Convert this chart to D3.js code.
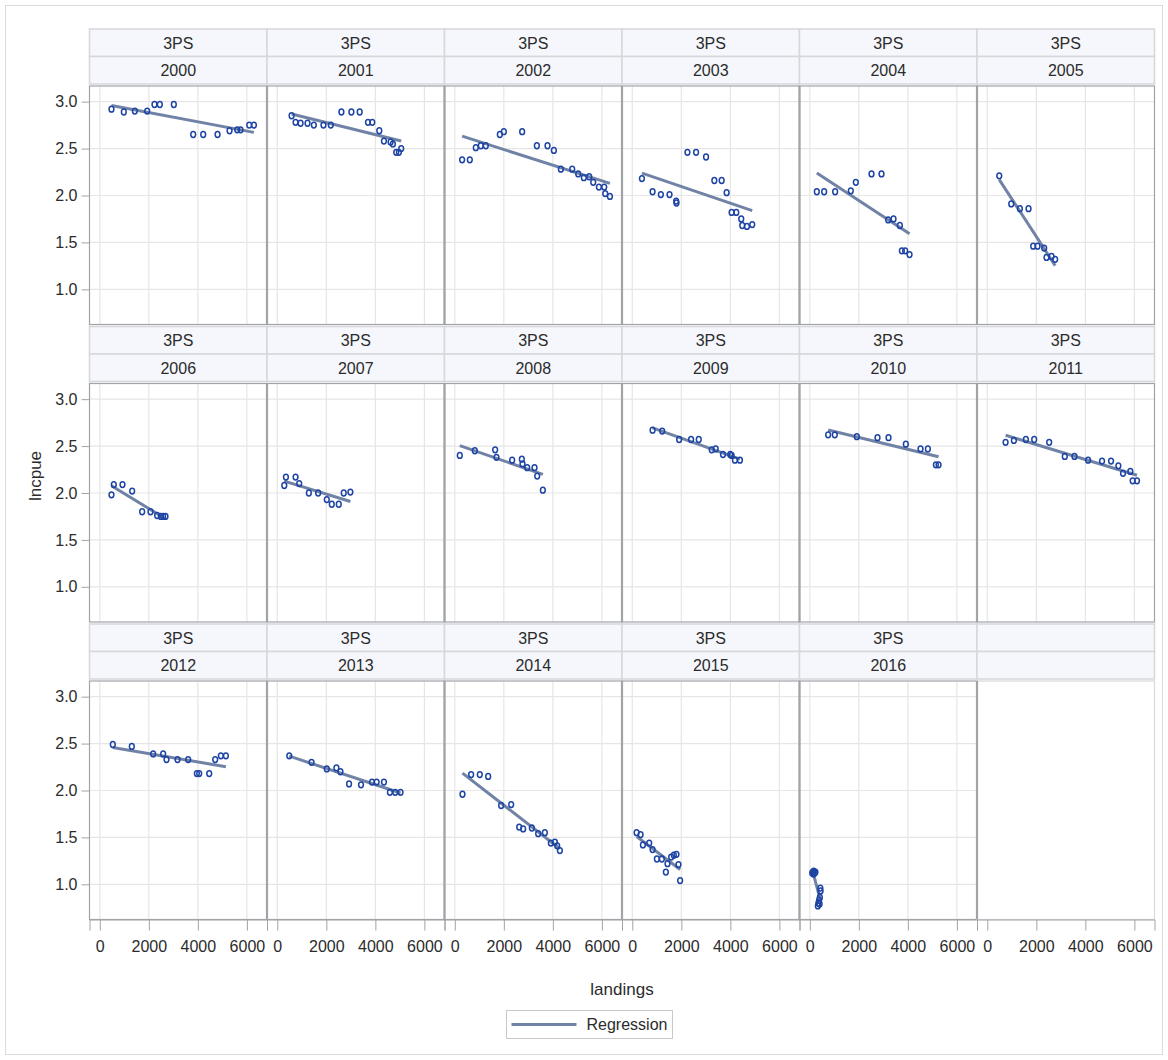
<!DOCTYPE html>
<html>
<head>
<meta charset="utf-8">
<script src="https://cdn.jsdelivr.net/npm/d3@7"></script>
<style>
  body { margin: 0; background: #fff; }
  text { font-family: "Liberation Sans", Arial, sans-serif; }
</style>
</head>
<body>
<svg id="chart" width="1168" height="1060"></svg>
<script>
// Panel labels and axis ticks
const region = "3PS";
const years = [2000, 2001, 2002, 2003, 2004, 2005, 2006, 2007, 2008, 2009, 2010, 2011, 2012, 2013, 2014, 2015, 2016];
const xTicks = [0, 2000, 4000, 6000];
const yTicks = [1.0, 1.5, 2.0, 2.5, 3.0];
const xLabel = "landings";
const yLabel = "lncpue";
const legendLabel = "Regression";

// Observations per year: [landings, lncpue]
const obs2000 = [[476,2.92],[980,2.89],[1429,2.90],[1932,2.90],[2231,2.97],[2449,2.97],[3020,2.97],[3810,2.65],[4218,2.65],[4803,2.65],[5293,2.69],[5605,2.70],[5741,2.70],[6095,2.75],[6286,2.75]];
const obs2001 = [[583,2.85],[745,2.78],[949,2.77],[1233,2.77],[1491,2.75],[1883,2.75],[2182,2.75],[2615,2.89],[3022,2.89],[3360,2.89],[3699,2.78],[3875,2.78],[4160,2.69],[4350,2.58],[4621,2.57],[4715,2.55],[4851,2.46],[4959,2.46],[5054,2.50]];
const obs2002 = [[299,2.38],[612,2.38],[857,2.51],[1061,2.53],[1265,2.53],[1837,2.65],[2000,2.68],[2748,2.68],[3347,2.53],[3782,2.53],[4041,2.48],[4327,2.28],[4789,2.28],[5034,2.23],[5265,2.19],[5483,2.20],[5646,2.14],[5878,2.09],[6095,2.09],[6136,2.02],[6327,1.99]];
const obs2003 = [[393,2.18],[827,2.04],[1165,2.01],[1518,2.01],[1789,1.94],[1802,1.92],[2249,2.46],[2602,2.46],[3008,2.41],[3347,2.16],[3645,2.16],[3848,2.03],[4051,1.82],[4241,1.82],[4444,1.75],[4485,1.68],[4675,1.67],[4892,1.69]];
const obs2004 = [[286,2.04],[585,2.04],[1034,2.04],[1673,2.05],[1878,2.14],[2517,2.23],[2925,2.23],[3197,1.74],[3415,1.75],[3673,1.68],[3755,1.41],[3891,1.41],[4068,1.37]];
const obs2005 = [[488,2.21],[977,1.91],[1330,1.86],[1682,1.86],[1872,1.46],[2049,1.46],[2320,1.44],[2415,1.34],[2619,1.35],[2768,1.32]];
const obs2006 = [[476,1.98],[571,2.09],[925,2.09],[1320,2.02],[1728,1.80],[2068,1.80],[2340,1.76],[2490,1.75],[2585,1.75],[2680,1.75]];
const obs2007 = [[285,2.08],[352,2.17],[745,2.17],[894,2.10],[1287,2.00],[1667,2.00],[2019,1.93],[2222,1.88],[2507,1.88],[2710,2.00],[2981,2.01]];
const obs2008 = [[204,2.40],[816,2.45],[1646,2.46],[1701,2.38],[2340,2.35],[2735,2.36],[2762,2.31],[2952,2.27],[3252,2.27],[3361,2.18],[3592,2.03]];
const obs2009 = [[827,2.67],[1220,2.66],[1911,2.57],[2398,2.57],[2710,2.57],[3238,2.46],[3401,2.47],[3699,2.41],[3997,2.41],[4051,2.40],[4187,2.35],[4390,2.35]];
const obs2010 = [[748,2.62],[1020,2.62],[1918,2.60],[2762,2.59],[3211,2.59],[3918,2.52],[4517,2.47],[4816,2.47],[5143,2.30],[5252,2.30]];
const obs2011 = [[746,2.54],[1085,2.56],[1574,2.57],[1913,2.57],[2524,2.54],[3161,2.39],[3555,2.39],[4111,2.35],[4681,2.34],[5047,2.34],[5346,2.29],[5536,2.21],[5834,2.23],[5929,2.13],[6106,2.13]];
const obs2012 = [[531,2.49],[1306,2.47],[2177,2.39],[2585,2.39],[2721,2.33],[3170,2.33],[3605,2.33],[3959,2.18],[4054,2.18],[4463,2.18],[4707,2.33],[4939,2.37],[5143,2.37]];
const obs2013 = [[488,2.37],[1396,2.30],[2019,2.23],[2412,2.24],[2575,2.20],[2927,2.07],[3415,2.06],[3862,2.09],[4051,2.09],[4350,2.09],[4593,1.98],[4810,1.98],[5027,1.98]];
const obs2014 = [[313,1.96],[667,2.17],[1020,2.17],[1361,2.15],[1891,1.84],[2299,1.85],[2626,1.61],[2789,1.59],[3143,1.60],[3401,1.54],[3673,1.55],[3918,1.44],[4082,1.45],[4177,1.41],[4286,1.36]];
const obs2015 = [[176,1.55],[339,1.53],[434,1.42],[691,1.44],[827,1.37],[1003,1.27],[1206,1.27],[1369,1.13],[1436,1.22],[1585,1.29],[1694,1.31],[1802,1.32],[1883,1.21],[1951,1.04]];
const obs2016 = [[100,1.12],[120,1.13],[150,1.11],[160,1.14],[200,1.12],[230,1.13],[330,0.77],[350,0.80],[380,0.83],[400,0.79],[410,0.86],[430,0.96],[440,0.93]];

const observations = [obs2000, obs2001, obs2002, obs2003, obs2004, obs2005, obs2006, obs2007, obs2008,
                      obs2009, obs2010, obs2011, obs2012, obs2013, obs2014, obs2015, obs2016];

// Layout of the 6 x 3 lattice
const nCols = 6, nRows = 3;
const gridLeft = 89.5, panelW = 177.5;
const firstPlotTop = 86, rowPitch = 297.5, plotH = 238.5;
const stripH = 27.5;
const colLeft = c => gridLeft + c * panelW;
const plotTop = r => firstPlotTop + r * rowPitch;

const markerColor = "#1d44a4";
const fitColor = "#7083a6";
const frameColor = "#a0a3a8";
const gridColor = "#e6e6e6";
const stripFill = "#f5f7fc";
const stripStroke = "#d5d7db";
const textColor = "#2b2b2b";

const x = d3.scaleLinear().domain([-420, 6820]).range([0, panelW]);
const y = d3.scaleLinear().domain([0.625, 3.167]).range([plotH, 0]);

const svg = d3.select("#chart");

// Outer border of the graph
svg.append("rect")
  .attr("x", 5.5).attr("y", 5.5).attr("width", 1157).attr("height", 1049)
  .attr("fill", "#fff").attr("stroke", "#dadada");

// Ordinary least squares fit
function fitLine(pts) {
  const mx = d3.mean(pts, d => d[0]);
  const my = d3.mean(pts, d => d[1]);
  const sxy = d3.sum(pts, d => (d[0] - mx) * (d[1] - my));
  const sxx = d3.sum(pts, d => (d[0] - mx) ** 2);
  const b = sxy / sxx, a = my - b * mx;
  const [x0, x1] = d3.extent(pts, d => d[0]);
  return [[x0, a + b * x0], [x1, a + b * x1]];
}

for (let i = 0; i < nCols * nRows; i++) {
  const r = Math.floor(i / nCols), c = i % nCols;
  const hasData = i < years.length;
  const g = svg.append("g").attr("transform", `translate(${colLeft(c)},${plotTop(r)})`);

  // Two header strips: region, then year
  const labels = hasData ? [region, String(years[i])] : ["", ""];
  labels.forEach((lab, k) => {
    const sy = -57 + k * stripH;
    g.append("rect")
      .attr("x", 0).attr("y", sy).attr("width", panelW).attr("height", stripH)
      .attr("fill", stripFill).attr("stroke", stripStroke).attr("stroke-width", 1.5);
    g.append("text")
      .attr("x", panelW / 2).attr("y", sy + stripH / 2).attr("dy", "0.36em")
      .attr("text-anchor", "middle").attr("font-size", 16).attr("fill", textColor)
      .text(lab);
  });

  if (hasData) {
    // Grid
    g.append("g").selectAll("line").data(xTicks).join("line")
      .attr("x1", d => x(d)).attr("x2", d => x(d)).attr("y1", 0).attr("y2", plotH)
      .attr("stroke", gridColor).attr("stroke-width", 1.2);
    g.append("g").selectAll("line").data(yTicks).join("line")
      .attr("x1", 0).attr("x2", panelW).attr("y1", d => y(d)).attr("y2", d => y(d))
      .attr("stroke", gridColor).attr("stroke-width", 1.2);

    const pts = observations[i];
    const fit = fitLine(pts);
    g.append("path")
      .attr("d", d3.line().x(d => x(d[0])).y(d => y(d[1]))(fit))
      .attr("stroke", fitColor).attr("stroke-width", 3).attr("fill", "none")
      .attr("stroke-linecap", "butt");

    g.append("g").selectAll("ellipse").data(pts).join("ellipse")
      .attr("cx", d => x(d[0])).attr("cy", d => y(d[1]))
      .attr("rx", 2.4).attr("ry", 2.9)
      .attr("fill", "none").attr("stroke", markerColor).attr("stroke-width", 1.5);
  }

  g.append("rect")
    .attr("x", 0).attr("y", 0).attr("width", panelW).attr("height", plotH)
    .attr("fill", "none").attr("stroke", hasData ? frameColor : "#d8d8d8").attr("stroke-width", 1.2);

  // Left axis on the first column
  if (c === 0) {
    const ya = g.append("g").call(d3.axisLeft(y).tickValues(yTicks).tickFormat(d3.format(".1f")).tickSize(8).tickPadding(4));
    ya.select(".domain").remove();
    ya.selectAll("line").attr("stroke", frameColor);
    ya.selectAll("text").attr("font-size", 16).attr("font-family", "Liberation Sans, Arial, sans-serif").attr("fill", textColor);
  }
  // Bottom axis on the last row
  if (r === nRows - 1) {
    const xa = g.append("g").attr("transform", `translate(0,${plotH})`)
      .call(d3.axisBottom(x).tickValues(xTicks).tickFormat(d3.format("d")).tickSize(11).tickPadding(10));
    xa.select(".domain").attr("stroke", frameColor);
    xa.selectAll("line").attr("stroke", frameColor);
    xa.selectAll("text").attr("font-size", 16).attr("font-family", "Liberation Sans, Arial, sans-serif").attr("fill", textColor);
  }
}

// Darker dividers between adjacent panels
for (let r = 0; r < nRows; r++) {
  for (let c = 1; c < nCols; c++) {
    svg.append("line")
      .attr("x1", colLeft(c)).attr("x2", colLeft(c))
      .attr("y1", plotTop(r)).attr("y2", plotTop(r) + plotH)
      .attr("stroke", frameColor).attr("stroke-width", 2.2);
  }
}

// Axis titles
svg.append("text")
  .attr("x", gridLeft + nCols * panelW / 2).attr("y", 995)
  .attr("text-anchor", "middle").attr("font-size", 17).attr("fill", textColor)
  .text(xLabel);
svg.append("text")
  .attr("transform", "translate(41,476) rotate(-90)")
  .attr("text-anchor", "middle").attr("font-size", 17).attr("fill", textColor)
  .text(yLabel);

// Legend
const lg = svg.append("g").attr("transform", "translate(506.5,1010.5)");
lg.append("rect").attr("width", 166).attr("height", 28)
  .attr("fill", "#fff").attr("stroke", "#c9c9c9");
lg.append("line").attr("x1", 5).attr("x2", 70).attr("y1", 14).attr("y2", 14)
  .attr("stroke", fitColor).attr("stroke-width", 3);
lg.append("text").attr("x", 80).attr("y", 14).attr("dy", "0.36em")
  .attr("font-size", 16).attr("fill", textColor).text(legendLabel);
</script>
</body>
</html>
